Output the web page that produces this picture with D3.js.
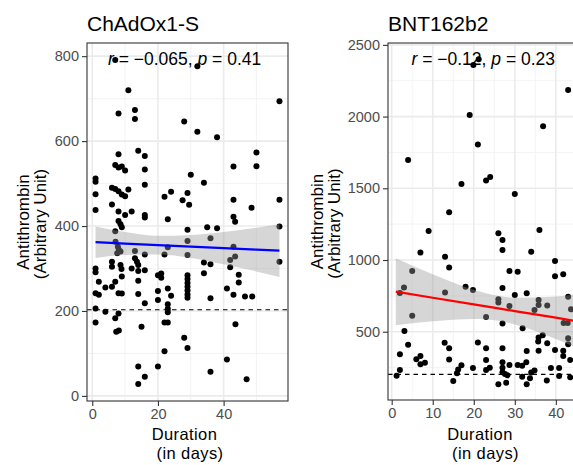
<!DOCTYPE html>
<html><head><meta charset="utf-8">
<script src="https://cdn.jsdelivr.net/npm/d3@7"></script>
<style>html,body{margin:0;padding:0;overflow:hidden;background:#fff} text{font-family:"Liberation Sans",Arial,sans-serif;white-space:pre}</style>
</head><body><svg id="c" width="573" height="465"></svg>
<script>
// ---------- data ----------
const panelTitles = ["ChAdOx1-S", "BNT162b2"];
const corrR = ["\u22120.065", "\u22120.12"];
const corrP = ["0.41", "0.23"];
const cutoff = [203, 203];

const leftXTicks = [0, 20, 40];
const leftYTicks = [0, 200, 400, 600, 800];
const rightXTicks = [0, 10, 20, 30, 40];
const rightYTicks = [500, 1000, 1500, 2000, 2500];

// ChAdOx1-S: [duration (days), antithrombin]
const chadoxPoints = [
[7,791],[32,776],[11,720],[8,665],[13,673],[13,652],[28,646],[32,622],[38,609],[57,694],
[8,569],[14,577],[16,565],[7,544],[8,538],[9,540],[10,531],[16,533],[16,497],[1,512],[1,504],[1,475],
[6,490],[7,487],[8,482],[9,474],[10,470],[11,486],[6,451],[1,438],[8,434],[10,426],[12,434],[16,426],[16,420],
[22,469],[24,481],[27.5,461],[29,478],[29.5,450],[30,521],[34,502],[43,540],[43,462],[43,422],[43.5,410],[48.5,443],[50,573],[50,541],[57,462],[57,399],
[23,416],[8,412],[8.6,404],[9,397],[29,391],[35,397],[38,395],
[7,388],[7.1,363],[7.8,351],[8.1,344],[8.6,340],[7.6,336],[13,341],[16,333],[22,333],[23,350],[29,365],[36,371],[29,332],[43,351],[43.5,328],[42,320],[42,303],[34,314],[36,310],[57,316],
[1,300],[1,291],[6,316],[6,304],[8.6,308],[8.9,299],[13,324],[13.6,316],[14,308],[12,300],[14,294],[16,296],
[9,281],[14,271],[20,284],[21,288],[21,278],[2,269],[4,255],[6,257],[7,269],[1,242],[2,238],[8,242],[9,241],[14,240],[20,247],[20,226],[23,253],[24,236],[16,218],[23,216],[23,205],[23,197],[1,206],[4,198],[1,173],[7,183],[8,194],[7.3,151],[8.1,154],[15,163],[22,173],[23,173],[28,137],[29,113],[22,105],[14,69],[14,28],[16,45],[20,69],
[29,284],[29,275],[29,266],[29,257],[29,248],[29,239],[29,231],
[34,289],[41,253],[43,238],[44.6,285],[44.6,267],[46.5,234],[48.7,234],[36,230],[43.6,169],[41,86],[36,57],[47,39]
];
// BNT162b2: [duration (days), antithrombin]
const bntPoints = [
[19.9,2360],[21.2,2400],[43,2186],[19,2011],[36.9,1932],[21,1805],[4,1697],[17,1530],[23,1555],[24,1579],[30,1460],[14,1333],[9,1202],[26,1186],[27,1140],[27,1070],[36,1209],[7,1052],[13,1023],[14,948],[5,924],[3,808],[2,770],[13,773],[18,814],[19.8,791],[5,612],[23,602],[28.7,924],[30.7,918],[34,1058],[39.8,993],[39.8,886],[41.8,901],[26,727],[26,704],[27,805],[28.7,680],[30,756],[32.9,768],[27,558],[31.9,524],[34.8,651],[35.8,721],[35.8,686],[37.9,682],[43,744],[43.7,656],[41.9,560],[42.9,560],[43,454],[35.8,460],[35.7,432],[36.8,476],[35.8,367],[37.9,419],[3.1,505],[4,410],[2,343],[2,233],[1.2,193],[6,308],[7,331],[7,274],[8.1,284],[12.9,423],[14,384],[14,307],[15,157],[15.9,210],[16.2,236],[17,266],[19.8,247],[21,425],[23,384],[23,303],[23,233],[23.9,249],[26,134],[27,384],[27,288],[27,249],[27,218],[27.6,205],[28.2,196],[27.9,144],[28.7,268],[30.7,268],[31.8,262],[32.8,288],[32.9,366],[31.8,186],[32.9,134],[33.7,175],[34,215],[34.8,230],[37.8,160],[38.8,247],[39.8,372],[40.8,247],[40.8,192],[41.8,368],[41.8,330],[43,412],[43.5,303],[43.5,182]
];

// fitted linear trend and 95% confidence band
const chadoxBandX  = [1, 10, 20, 30, 40, 50, 57];
const chadoxFit    = [362, 358.8, 355.2, 351.6, 348.1, 344.5, 342];
const chadoxLower  = [325, 332, 333, 325, 310, 293, 280];
const chadoxUpper  = [399, 386, 377, 379, 386, 396, 404];
const bntBandX     = [1, 10, 20, 26, 30, 40, 45];
const bntFit       = [779, 737, 691, 663, 644, 598, 574];
const bntLower     = [545, 573, 589, 576, 551, 449, 389];
const bntUpper     = [1013, 901, 793, 750, 737, 746, 760];

// ---------- drawing ----------
const svg = d3.select('#c');

function drawPanel(cfg) {
  const g = svg.append('g');
  const x = d3.scaleLinear().domain(cfg.xDomain).range([cfg.left, cfg.right]);
  const y = d3.scaleLinear().domain(cfg.yDomain).range([cfg.bottom, cfg.top]);

  g.append('rect').attr('x', cfg.left).attr('y', cfg.top)
    .attr('width', cfg.right - cfg.left).attr('height', cfg.bottom - cfg.top).attr('fill', '#fff');

  g.selectAll('.gxm').data(cfg.xMinor).join('line')
    .attr('x1', d => x(d)).attr('x2', d => x(d)).attr('y1', cfg.top).attr('y2', cfg.bottom)
    .attr('stroke', '#f2f2f2').attr('stroke-width', 0.9);
  g.selectAll('.gym').data(cfg.yMinor).join('line')
    .attr('y1', d => y(d)).attr('y2', d => y(d)).attr('x1', cfg.left).attr('x2', cfg.right)
    .attr('stroke', '#f2f2f2').attr('stroke-width', 0.9);
  g.selectAll('.gx').data(cfg.xTicks).join('line')
    .attr('x1', d => x(d)).attr('x2', d => x(d)).attr('y1', cfg.top).attr('y2', cfg.bottom)
    .attr('stroke', '#ebebeb').attr('stroke-width', 1.6);
  g.selectAll('.gy').data(cfg.yTicks).join('line')
    .attr('y1', d => y(d)).attr('y2', d => y(d)).attr('x1', cfg.left).attr('x2', cfg.right)
    .attr('stroke', '#ebebeb').attr('stroke-width', 1.6);

  g.selectAll('.pt').data(cfg.points).join('circle')
    .attr('cx', d => x(d[0])).attr('cy', d => y(d[1])).attr('r', 3).attr('fill', '#000');

  g.append('line').attr('x1', cfg.left).attr('x2', cfg.right)
    .attr('y1', y(cfg.cutoff)).attr('y2', y(cfg.cutoff))
    .attr('stroke', '#000').attr('stroke-width', 1.1).attr('stroke-dasharray', '4.5,4');

  const band = cfg.bandX.map((v, i) => ({x: v, lo: cfg.lower[i], hi: cfg.upper[i], f: cfg.fit[i]}));
  g.append('path').datum(band)
    .attr('d', d3.area().curve(d3.curveMonotoneX).x(d => x(d.x)).y0(d => y(d.lo)).y1(d => y(d.hi)))
    .attr('fill', '#999999').attr('fill-opacity', 0.4);
  g.append('path').datum(band)
    .attr('d', d3.line().x(d => x(d.x)).y(d => y(d.f)))
    .attr('fill', 'none').attr('stroke', cfg.color).attr('stroke-width', 2.2);

  const t = g.append('text').attr('x', cfg.annX).attr('y', cfg.annY)
    .attr('font-size', 17.5).attr('fill', '#000');
  t.append('tspan').attr('font-style', 'italic').text('r');
  t.append('tspan').text(' = ' + cfg.r + ', ');
  t.append('tspan').attr('font-style', 'italic').text('p');
  t.append('tspan').text(' = ' + cfg.p);

  g.append('rect').attr('x', cfg.left).attr('y', cfg.top)
    .attr('width', cfg.right - cfg.left).attr('height', cfg.bottom - cfg.top)
    .attr('fill', 'none').attr('stroke', '#333').attr('stroke-width', 1.1);

  const fmt = d3.format('d');
  const ax = g.append('g').attr('transform', `translate(0,${cfg.bottom})`)
    .call(d3.axisBottom(x).tickValues(cfg.xTicks).tickFormat(fmt).tickSize(5).tickPadding(3));
  const ay = g.append('g').attr('transform', `translate(${cfg.left},0)`)
    .call(d3.axisLeft(y).tickValues(cfg.yTicks).tickFormat(fmt).tickSize(5).tickPadding(3));
  [ax, ay].forEach(a => {
    a.select('.domain').remove();
    a.selectAll('line').attr('stroke', '#333').attr('stroke-width', 1.1);
    a.selectAll('text').attr('fill', '#4d4d4d').attr('font-size', 14.5)
      .attr('font-family', '"Liberation Sans",Arial,sans-serif');
  });

  g.append('text').attr('x', cfg.left).attr('y', 30.5).attr('font-size', 21).attr('fill', '#000').text(cfg.title);

  const cx = (cfg.left + cfg.right) / 2;
  g.append('text').attr('x', cx - 3).attr('y', 440).attr('text-anchor', 'middle')
    .attr('font-size', 16.5).attr('letter-spacing', 0.4).attr('fill', '#000').text('Duration');
  g.append('text').attr('x', cx + 2.5).attr('y', 458.5).attr('text-anchor', 'middle')
    .attr('font-size', 16.5).attr('letter-spacing', 0.4).attr('fill', '#000').text('(in days)');

  const cy = (cfg.top + cfg.bottom) / 2;
  g.append('text').attr('transform', `translate(${cfg.ylab1},${cy}) rotate(-90)`).attr('text-anchor', 'middle')
    .attr('font-size', 17).attr('fill', '#000').text('Antithrombin');
  g.append('text').attr('transform', `translate(${cfg.ylab2},${cy + 2}) rotate(-90)`).attr('text-anchor', 'middle')
    .attr('font-size', 17).attr('fill', '#000').text('(Arbitrary Unit)');
}

drawPanel({
  left: 87, right: 288, top: 43, bottom: 401,
  xDomain: [-1.6, 59.6], yDomain: [-12, 831],
  xTicks: leftXTicks, xMinor: [10, 30, 50],
  yTicks: leftYTicks, yMinor: [100, 300, 500, 700],
  points: chadoxPoints, cutoff: cutoff[0],
  bandX: chadoxBandX, fit: chadoxFit, lower: chadoxLower, upper: chadoxUpper, color: '#0000ff',
  r: corrR[0], p: corrP[0], annX: 108, annY: 65,
  title: panelTitles[0], ylab1: 29, ylab2: 46
});
drawPanel({
  left: 388, right: 578, top: 43, bottom: 400,
  xDomain: [-0.9, 45.4], yDomain: [24, 2513],
  xTicks: rightXTicks, xMinor: [5, 15, 25, 35, 45],
  yTicks: rightYTicks, yMinor: [250, 750, 1250, 1750, 2250],
  points: bntPoints, cutoff: cutoff[1],
  bandX: bntBandX, fit: bntFit, lower: bntLower, upper: bntUpper, color: '#ff0000',
  r: corrR[1], p: corrP[1], annX: 411.5, annY: 64.5,
  title: panelTitles[1], ylab1: 323, ylab2: 340
});
</script>
</body></html>
